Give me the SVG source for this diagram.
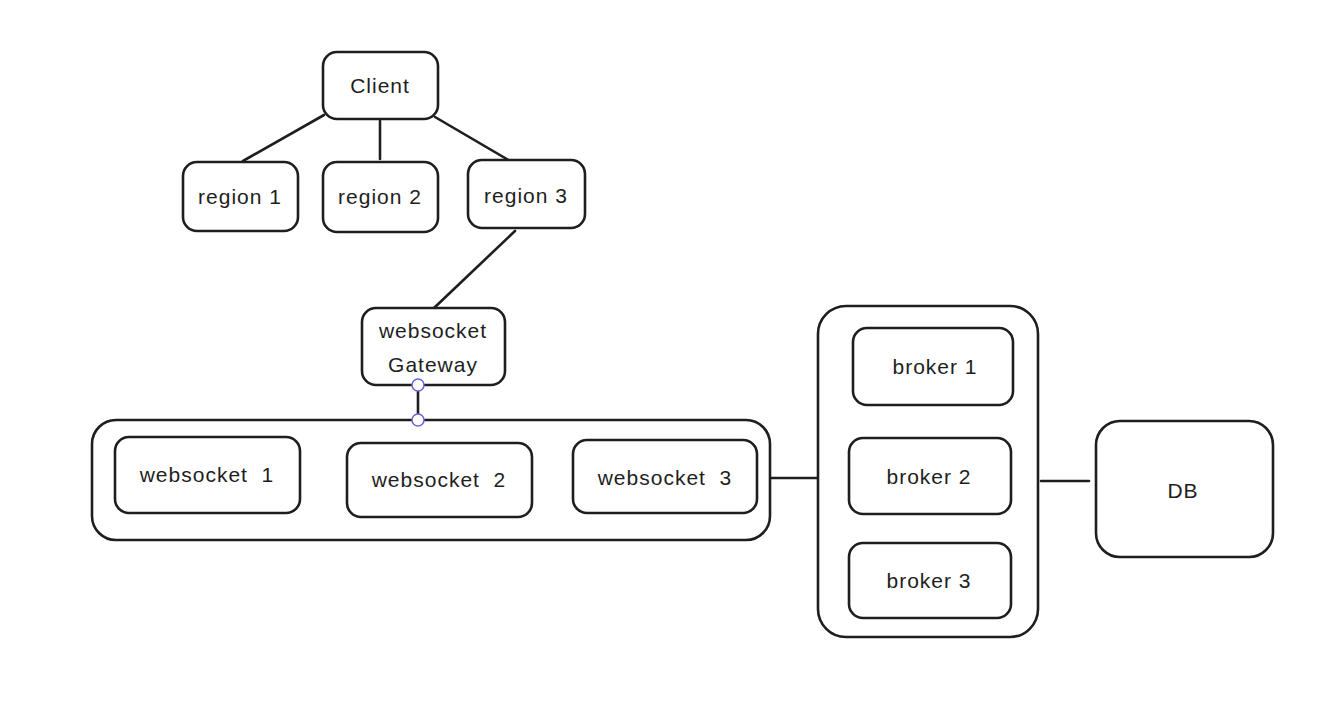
<svg xmlns="http://www.w3.org/2000/svg" width="1335" height="716" viewBox="0 0 1335 716">
<style>
.box{fill:#ffffff;stroke:#1e1e1e;stroke-width:2.6}
.big{fill:none;stroke:#1e1e1e;stroke-width:2.6}
.ln{stroke:#1e1e1e;stroke-width:2.6;fill:none;stroke-linecap:round}
.t{font-family:"Liberation Sans","Noto Sans",sans-serif;font-size:21px;letter-spacing:1px;fill:#1e1e1e;text-anchor:middle;dominant-baseline:central;white-space:pre}
.h{fill:#ffffff;stroke:#6965db;stroke-width:1.5}
</style>
<rect width="1335" height="716" fill="#ffffff"/>
<g id="connectors">
<line class="ln" x1="324" y1="115" x2="243" y2="161"/>
<line class="ln" x1="380" y1="121" x2="380" y2="159"/>
<line class="ln" x1="435" y1="117" x2="510" y2="161"/>
<line class="ln" x1="515" y1="231" x2="434" y2="308"/>
<line class="ln" x1="418" y1="385" x2="418" y2="420"/>
<line class="ln" x1="771" y1="478" x2="817" y2="478"/>
<line class="ln" x1="1041" y1="481" x2="1089" y2="481"/>
</g>
<g id="client"><rect class="box" x="323" y="52" width="115" height="67" rx="14"/><text class="t" x="380" y="85">Client</text></g>
<g id="region1"><rect class="box" x="183" y="162" width="115" height="69" rx="14"/><text class="t" x="240" y="196">region 1</text></g>
<g id="region2"><rect class="box" x="323" y="162" width="115" height="70" rx="14"/><text class="t" x="380" y="196">region 2</text></g>
<g id="region3"><rect class="box" x="468" y="160" width="117" height="68" rx="14"/><text class="t" x="526" y="195">region 3</text></g>
<g id="gateway"><rect class="box" x="362" y="308" width="143" height="77" rx="14"/><text class="t" x="433" y="330">websocket</text><text class="t" x="433" y="364">Gateway</text></g>
<g id="websocket-cluster"><rect class="big" x="92" y="420" width="678" height="120" rx="24"/></g>
<g id="websocket1"><rect class="box" x="115" y="437" width="185" height="76" rx="14"/><text class="t" x="207" y="474">websocket  1</text></g>
<g id="websocket2"><rect class="box" x="347" y="443" width="185" height="74" rx="14"/><text class="t" x="439" y="479">websocket  2</text></g>
<g id="websocket3"><rect class="box" x="573" y="440" width="184" height="73" rx="14"/><text class="t" x="665" y="477">websocket  3</text></g>
<g id="broker-cluster"><rect class="big" x="818" y="306" width="220" height="331" rx="28"/></g>
<g id="broker1"><rect class="box" x="853" y="328" width="160" height="77" rx="14"/><text class="t" x="935" y="366">broker 1</text></g>
<g id="broker2"><rect class="box" x="849" y="438" width="162" height="76" rx="14"/><text class="t" x="929" y="476">broker 2</text></g>
<g id="broker3"><rect class="box" x="849" y="543" width="162" height="75" rx="14"/><text class="t" x="929" y="580">broker 3</text></g>
<g id="db"><rect class="box" x="1096" y="421" width="177" height="136" rx="24"/><text class="t" x="1183" y="490">DB</text></g>
<g id="handles"><circle class="h" cx="418" cy="385" r="6"/><circle class="h" cx="418" cy="420" r="6"/></g>
</svg>
